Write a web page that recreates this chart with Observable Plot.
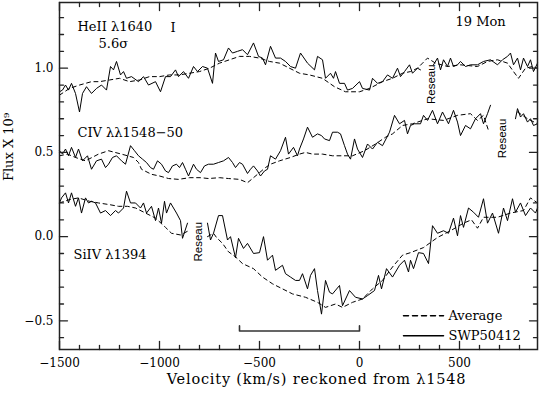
<!DOCTYPE html>
<html><head><meta charset="utf-8">
<script src="https://cdn.jsdelivr.net/npm/d3@7"></script>
<script src="https://cdn.jsdelivr.net/npm/@observablehq/plot@0.6"></script>
<style>body{margin:0;background:#fff}</style>
</head><body><div id="chart"></div>
<script>
// ---- data: [velocity km/s, flux x1e9]; null flux = gap (Reseau mark) ----
const heiiSWP = [[-1500,0.86],[-1485,0.87],[-1470,0.90],[-1455,0.87],[-1440,0.91],[-1420,0.85],[-1400,0.74],[-1385,0.85],[-1365,0.89],[-1340,0.85],[-1315,0.88],[-1290,0.90],[-1265,0.87],[-1245,1.01],[-1230,0.99],[-1215,1.04],[-1195,0.96],[-1180,0.98],[-1165,0.94],[-1140,0.95],[-1105,0.92],[-1080,0.95],[-1055,0.90],[-1020,0.92],[-995,0.86],[-970,0.95],[-945,0.95],[-920,0.99],[-905,0.95],[-880,0.98],[-855,0.94],[-830,1.01],[-810,0.98],[-785,1.01],[-760,1.0],[-735,0.91],[-720,1.09],[-705,1.04],[-680,1.05],[-655,1.12],[-635,1.09],[-610,1.10],[-585,1.11],[-560,1.08],[-530,1.15],[-505,1.07],[-485,1.06],[-470,1.02],[-445,1.13],[-420,1.06],[-395,1.06],[-370,1.04],[-345,1.01],[-320,1.0],[-295,1.09],[-260,1.03],[-225,0.99],[-210,1.07],[-185,1.05],[-170,0.94],[-145,0.97],[-130,0.94],[-120,0.98],[-100,0.91],[-75,0.91],[-60,0.87],[-35,0.88],[0,0.92],[15,0.88],[50,0.87],[65,0.94],[90,0.91],[115,0.92],[140,0.96],[165,0.94],[190,1.0],[205,0.95],[225,0.98],[250,1.02],[265,0.97],[290,1.0],[305,0.99],[340,null],[370,1.02],[390,1.06],[405,0.99],[420,1.05],[440,1.01],[455,1.06],[470,1.01],[490,1.02],[505,1.04],[530,1.01],[555,1.02],[590,1.02],[620,1.04],[655,1.05],[690,1.02],[715,1.05],[740,1.07],[755,1.09],[770,1.02],[790,1.06],[805,0.99],[820,1.06],[840,1.01],[855,1.05],[870,0.98],[890,1.03]];
const heiiAvg = [[-1500,0.84],[-1450,0.88],[-1400,0.90],[-1340,0.92],[-1300,0.92],[-1250,0.93],[-1200,0.94],[-1150,0.92],[-1100,0.93],[-1050,0.95],[-1000,0.95],[-950,0.96],[-900,0.96],[-850,0.97],[-800,0.98],[-750,1.0],[-700,1.03],[-650,1.05],[-600,1.07],[-550,1.07],[-500,1.06],[-450,1.04],[-400,1.03],[-350,1.0],[-300,0.97],[-250,0.96],[-185,0.94],[-125,0.89],[-70,0.86],[0,0.86],[50,0.88],[115,0.92],[165,0.94],[215,0.97],[255,0.98],[290,1.0],[315,1.03],[340,1.06],[380,1.03],[440,1.01],[505,1.02],[590,1.01],[640,1.04],[690,1.05],[740,1.03],[770,0.98],[795,0.94],[830,1.0],[865,1.01],[890,1.0]];
const civSWP = [[-1500,0.51],[-1485,0.49],[-1470,0.52],[-1455,0.48],[-1440,0.53],[-1420,0.47],[-1405,0.52],[-1385,0.45],[-1360,0.48],[-1340,0.40],[-1315,0.45],[-1290,0.46],[-1270,0.41],[-1255,0.43],[-1235,0.47],[-1215,0.48],[-1190,0.45],[-1170,0.43],[-1145,0.54],[-1125,0.51],[-1105,0.48],[-1085,0.46],[-1065,0.44],[-1045,0.41],[-1030,0.40],[-1010,0.45],[-990,0.43],[-970,0.39],[-955,0.38],[-935,0.42],[-915,0.43],[-900,0.41],[-885,0.44],[-870,0.40],[-855,0.36],[-830,0.43],[-815,0.40],[-795,0.38],[-775,0.42],[-755,0.43],[-730,0.43],[-705,0.44],[-680,0.45],[-655,0.47],[-635,0.44],[-620,0.41],[-600,0.44],[-585,0.43],[-560,0.375],[-545,0.40],[-530,0.42],[-510,0.39],[-495,0.36],[-475,0.39],[-460,0.40],[-445,0.48],[-420,0.46],[-395,0.51],[-370,0.59],[-355,0.49],[-330,0.53],[-310,0.48],[-300,0.52],[-280,0.58],[-260,0.65],[-235,0.59],[-210,0.61],[-190,0.60],[-175,0.58],[-150,0.57],[-135,0.62],[-110,0.62],[-95,0.61],[-75,0.54],[-60,0.49],[-45,0.46],[-25,0.58],[-10,0.52],[15,0.47],[40,0.55],[65,0.52],[90,0.56],[115,0.54],[150,0.62],[175,0.72],[200,0.67],[225,0.69],[240,0.61],[255,0.66],[275,0.67],[305,0.67],[320,0.72],[340,0.69],[365,0.75],[390,0.67],[415,0.74],[445,0.67],[470,0.75],[490,0.68],[505,0.60],[530,0.66],[555,0.64],[580,0.70],[605,0.73],[620,0.67],[640,0.73],[655,0.78],[720,null],[780,0.70],[790,0.76],[805,0.71],[820,0.73],[840,0.68],[855,0.70],[870,0.66],[890,0.67]];
const civAvg = [[-1500,0.48],[-1460,0.49],[-1420,0.47],[-1370,0.45],[-1305,0.49],[-1255,0.51],[-1190,0.49],[-1130,0.47],[-1105,0.44],[-1090,0.40],[-1040,0.37],[-1000,0.36],[-955,0.345],[-905,0.34],[-850,0.35],[-795,0.35],[-755,0.345],[-700,0.35],[-655,0.345],[-600,0.34],[-560,0.32],[-505,0.375],[-470,0.41],[-445,0.43],[-400,0.45],[-345,0.47],[-300,0.49],[-270,0.50],[-235,0.49],[-185,0.49],[-135,0.48],[-85,0.48],[-35,0.48],[25,0.51],[80,0.55],[130,0.59],[165,0.61],[215,0.66],[265,0.67],[340,0.70],[420,0.69],[490,0.72],[555,0.73],[590,0.69],[620,0.72],[645,0.63],[720,null],[790,0.74],[840,0.70],[890,0.67]];
const siivSWP = [[-1500,0.20],[-1490,0.23],[-1470,0.26],[-1455,0.20],[-1440,0.26],[-1420,0.18],[-1405,0.23],[-1390,0.14],[-1370,0.23],[-1355,0.20],[-1340,0.21],[-1320,0.20],[-1295,0.14],[-1270,0.155],[-1245,0.125],[-1220,0.155],[-1205,0.14],[-1180,0.17],[-1165,0.27],[-1145,0.20],[-1120,0.20],[-1095,0.17],[-1080,0.20],[-1065,0.14],[-1040,0.18],[-1020,0.095],[-1005,0.17],[-990,0.08],[-975,0.21],[-965,0.14],[-945,0.20],[-915,0.14],[-895,0.095],[-885,-0.01],[-860,0.08],[-810,null],[-760,0.08],[-745,-0.02],[-730,0.02],[-705,0.125],[-685,0.125],[-660,-0.02],[-645,0.0],[-620,-0.125],[-605,-0.01],[-580,-0.07],[-560,-0.04],[-530,-0.10],[-500,-0.095],[-480,0.0],[-460,-0.14],[-435,-0.11],[-420,-0.20],[-385,-0.17],[-370,-0.22],[-345,-0.24],[-320,-0.26],[-300,-0.26],[-285,-0.22],[-260,-0.31],[-245,-0.23],[-225,-0.19],[-210,-0.32],[-190,-0.46],[-170,-0.26],[-150,-0.33],[-135,-0.34],[-100,-0.29],[-85,-0.41],[-50,-0.32],[-20,-0.36],[15,-0.37],[40,-0.35],[75,-0.32],[95,-0.23],[110,-0.31],[135,-0.19],[165,-0.24],[200,-0.17],[225,-0.14],[245,-0.21],[255,-0.14],[270,-0.19],[295,-0.095],[320,-0.10],[345,-0.16],[365,0.065],[390,0.02],[420,0.035],[445,0.02],[470,0.11],[490,0.005],[505,0.125],[520,0.055],[545,0.17],[570,0.145],[595,0.115],[620,0.225],[640,0.08],[665,0.14],[695,0.02],[720,0.17],[740,0.095],[765,0.225],[780,0.145],[805,0.20],[830,0.125],[855,0.17],[880,0.14],[890,0.17]];
const siivAvg = [[-1500,0.20],[-1450,0.22],[-1405,0.23],[-1350,0.21],[-1305,0.20],[-1250,0.19],[-1205,0.18],[-1160,0.18],[-1120,0.17],[-1070,0.14],[-1020,0.11],[-970,0.055],[-940,0.02],[-895,0.01],[-855,0.035],[-810,null],[-760,0.0],[-730,0.02],[-715,-0.005],[-685,-0.04],[-655,-0.09],[-620,-0.12],[-585,-0.16],[-530,-0.19],[-485,-0.24],[-435,-0.28],[-385,-0.31],[-335,-0.34],[-270,-0.36],[-210,-0.39],[-170,-0.42],[-120,-0.40],[-85,-0.42],[-35,-0.39],[15,-0.37],[65,-0.31],[115,-0.26],[165,-0.18],[215,-0.11],[255,-0.095],[320,-0.065],[390,-0.005],[455,0.035],[520,0.08],[560,0.10],[590,0.05],[620,0.115],[690,0.115],[755,0.14],[820,0.155],[855,0.23],[890,0.20]];

const xMajorTicks = [-1500, -1000, -500, 0, 500];
const xMinorTicks = [-1400,-1300,-1200,-1100,-900,-800,-700,-600,-400,-300,-200,-100,100,200,300,400,600,700,800];
const yMajorTicks = [-0.5, 0, 0.5, 1.0];
const yMinorTicks = [-0.6,-0.4,-0.3,-0.2,-0.1,0.1,0.2,0.3,0.4,0.6,0.7,0.8,0.9,1.1,1.2,1.3];

const annotations = [
  {v:-1410, f:1.244, t:"HeII λ1640"},
  {v:-945, f:1.238, t:"I"},
  {v:-1305, f:1.143, t:"5.6σ"},
  {v:480, f:1.274, t:"19 Mon"},
  {v:-1410, f:0.619, t:"CIV λλ1548−50"},
  {v:-1430, f:-0.107, t:"SiIV λ1394"},
  {v:445, f:-0.47, t:"Average"},
  {v:445, f:-0.589, t:"SWP50412"}
];
const reseauLabels = [{v:360, f:0.905}, {v:715, f:0.583}, {v:-808, f:-0.03}];
const bracketV = [-600, -600, 0, 0];
const bracketF = [-0.53, -0.56, -0.56, -0.53];
const legendV = [220, 420];
const legendAvgF = -0.47;
const legendSwpF = -0.589;

const rows = a => a.map(([v, f]) => ({v, f}));
const tickShape = {draw(ctx, l) { ctx.moveTo(0, 0); ctx.lineTo(0, -l); }};
const axisColor = "#222";
function ticks(data, opts, len) {
  return Plot.vector(data, {...opts, length: len, shape: tickShape, anchor: "start", stroke: axisColor, strokeWidth: 1.3});
}

const fmtX = d3.format("d");
const fmtY = d3.format(".1f");

const chart = Plot.plot({
  width: 539, height: 393,
  marginLeft: 59, marginRight: 2, marginTop: 2, marginBottom: 44,
  x: {domain: [-1500, 890], axis: null},
  y: {domain: [-0.67, 1.39], axis: null},
  style: {fontFamily: "'DejaVu Serif', serif", fontSize: "12px", color: "black", background: "white"},
  marks: [
    Plot.line(rows(heiiAvg), {x: "v", y: "f", stroke: "black", strokeWidth: 1, strokeDasharray: "4,3.5"}),
    Plot.line(rows(civAvg), {x: "v", y: "f", stroke: "black", strokeWidth: 1, strokeDasharray: "4,3.5"}),
    Plot.line(rows(siivAvg), {x: "v", y: "f", stroke: "black", strokeWidth: 1, strokeDasharray: "4,3.5"}),
    Plot.line(rows(heiiSWP), {x: "v", y: "f", stroke: "black", strokeWidth: 1}),
    Plot.line(rows(civSWP), {x: "v", y: "f", stroke: "black", strokeWidth: 1}),
    Plot.line(rows(siivSWP), {x: "v", y: "f", stroke: "black", strokeWidth: 1}),
    // bracket
    Plot.line(bracketV.map((v, i) => ({v, f: bracketF[i]})), {x: "v", y: "f", stroke: "#333", strokeWidth: 1.6}),
    // legend samples
    Plot.line(legendV.map(v => ({v, f: legendAvgF})), {x: "v", y: "f", stroke: "black", strokeDasharray: "5,4"}),
    Plot.line(legendV.map(v => ({v, f: legendSwpF})), {x: "v", y: "f", stroke: "black"}),
    // annotations
    Plot.text(annotations, {x: "v", y: "f", text: "t", textAnchor: "start", fontSize: 13, fill: "black"}),
    Plot.text(reseauLabels, {x: "v", y: "f", text: () => "Reseau", rotate: -90, fontSize: 11.5, fontFamily: "'Liberation Sans', Arial, sans-serif", fill: "black"}),
    // frame and ticks
    Plot.frame({stroke: axisColor, strokeWidth: 1.5}),
    ticks(xMajorTicks, {x: d => d, frameAnchor: "bottom", rotate: 0}, 8),
    ticks(xMinorTicks, {x: d => d, frameAnchor: "bottom", rotate: 0}, 4),
    ticks(xMajorTicks, {x: d => d, frameAnchor: "top", rotate: 180}, 8),
    ticks(xMinorTicks, {x: d => d, frameAnchor: "top", rotate: 180}, 4),
    ticks(yMajorTicks, {y: d => d, frameAnchor: "left", rotate: 90}, 8),
    ticks(yMinorTicks, {y: d => d, frameAnchor: "left", rotate: 90}, 4),
    ticks(yMajorTicks, {y: d => d, frameAnchor: "right", rotate: -90}, 8),
    ticks(yMinorTicks, {y: d => d, frameAnchor: "right", rotate: -90}, 4),
    // tick labels
    Plot.text(xMajorTicks, {x: d => d, frameAnchor: "bottom", dy: 17, text: d => fmtX(d), fontSize: 12, fill: "black"}),
    Plot.text(yMajorTicks, {y: d => d, frameAnchor: "left", dx: -6, textAnchor: "end", text: d => fmtY(d), fontSize: 12, fill: "black"}),
    // axis titles
    Plot.text(["Velocity (km/s) reckoned from λ1548"], {x: () => -215, frameAnchor: "bottom", dy: 34, text: d => d, fontSize: 14.5, fill: "black"}),
    Plot.text(["Flux X 10⁹"], {y: () => 0.33, frameAnchor: "left", dx: -51, rotate: -90, text: d => d, fontSize: 13, fill: "black"})
  ]
});
d3.select(chart).selectAll("text")
  .filter(function() { return this.textContent.startsWith("Velocity"); })
  .style("letter-spacing", "0.8px");
document.getElementById("chart").appendChild(chart);
</script>
</body></html>
